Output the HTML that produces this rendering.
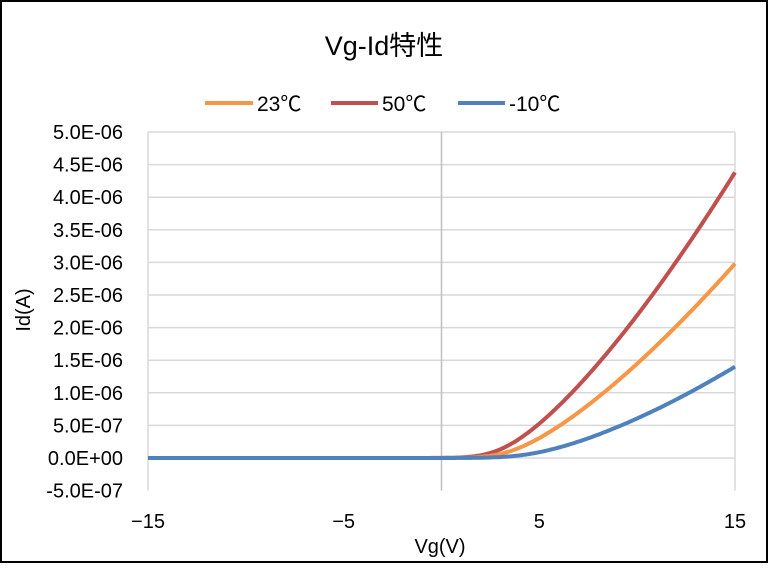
<!DOCTYPE html>
<html><head><meta charset="utf-8"><style>
body{margin:0;background:#fff}
svg text{font-family:"Liberation Sans","Noto Sans CJK JP",sans-serif;fill:#000}
</style></head><body>
<svg id="s" width="768" height="564" xmlns="http://www.w3.org/2000/svg">
<rect x="1" y="1" width="766" height="561" fill="#fff" stroke="#000" stroke-width="2"/>
<text x="384" y="55" font-size="27" text-anchor="middle">Vg-Id特性</text>
<line x1="205" y1="103" x2="253" y2="103" stroke="#F79646" stroke-width="4"/>
<text x="257" y="111" font-size="21">23℃</text>
<line x1="331" y1="103" x2="378" y2="103" stroke="#C0504D" stroke-width="4"/>
<text x="382" y="111" font-size="21">50℃</text>
<line x1="458" y1="103" x2="505" y2="103" stroke="#4F81BD" stroke-width="4"/>
<text x="509" y="111" font-size="21">-10℃</text>
<g id="grid"></g>
<text x="440" y="553" font-size="20" text-anchor="middle">Vg(V)</text>
<text transform="translate(30,310) rotate(-90)" font-size="20" text-anchor="middle">Id(A)</text>
<g id="curves"></g>
</svg>
<script>
var ns="http://www.w3.org/2000/svg",g=document.getElementById("grid"),c=document.getElementById("curves");
function el(t,a,p,txt){var e=document.createElementNS(ns,t);for(var k in a)e.setAttribute(k,a[k]);if(txt)e.textContent=txt;p.appendChild(e);return e;}
var L=148,R=735,Y0=458,S=65.2;
function X(v){return L+(v+15)/30*(R-L);}
function Y(i){return Y0-i*S;}
var labs=["5.0E-06","4.5E-06","4.0E-06","3.5E-06","3.0E-06","2.5E-06","2.0E-06","1.5E-06","1.0E-06","5.0E-07","0.0E+00","-5.0E-07"];
for(var k=0;k<11;k++){var val=5-k*0.5,y=Y(val);
 el("line",{x1:L,x2:R,y1:y,y2:y,stroke:"#d9d9d9","stroke-width":1.5},g);}
var lv=[5,4.5,4,3.5,3,2.5,2,1.5,1,0.5,0,-0.5];
for(var k=0;k<12;k++){el("text",{x:123,y:Y(lv[k])+7,"font-size":20,"text-anchor":"end"},g,labs[k]);}
el("line",{x1:L,x2:L,y1:Y(5),y2:Y(-0.5),stroke:"#d9d9d9","stroke-width":1.5},g);
el("line",{x1:R,x2:R,y1:Y(5),y2:Y(-0.5),stroke:"#d9d9d9","stroke-width":1.5},g);
el("line",{x1:X(0),x2:X(0),y1:Y(5),y2:Y(-0.5),stroke:"#bfbfbf","stroke-width":1.5},g);
[["−15",-15],["−5",-5],["5",5],["15",15]].forEach(function(t){el("text",{x:X(t[1]),y:528,"font-size":20,"text-anchor":"middle"},g,t[0]);});
function sp(x){return x>20?x:Math.log(1+Math.exp(x));}
function curve(col,vt,end,n,s){var top=Math.pow(sp((15-vt)/s)*s,n),d="";
 for(var v=-15;v<=15.001;v+=0.1){var i=end*Math.pow(sp((v-vt)/s)*s,n)/top;d+=(d?"L":"M")+X(v).toFixed(1)+","+Y(i).toFixed(1);}
 el("path",{d:d,fill:"none",stroke:col,"stroke-width":4,"stroke-linejoin":"round"},c);}
curve("#C0504D",2.2,4.38,1.4,0.8);
curve("#F79646",2.6,2.98,1.4,0.8);
curve("#4F81BD",3.3,1.4,1.5,1.0);
</script>
</body></html>
